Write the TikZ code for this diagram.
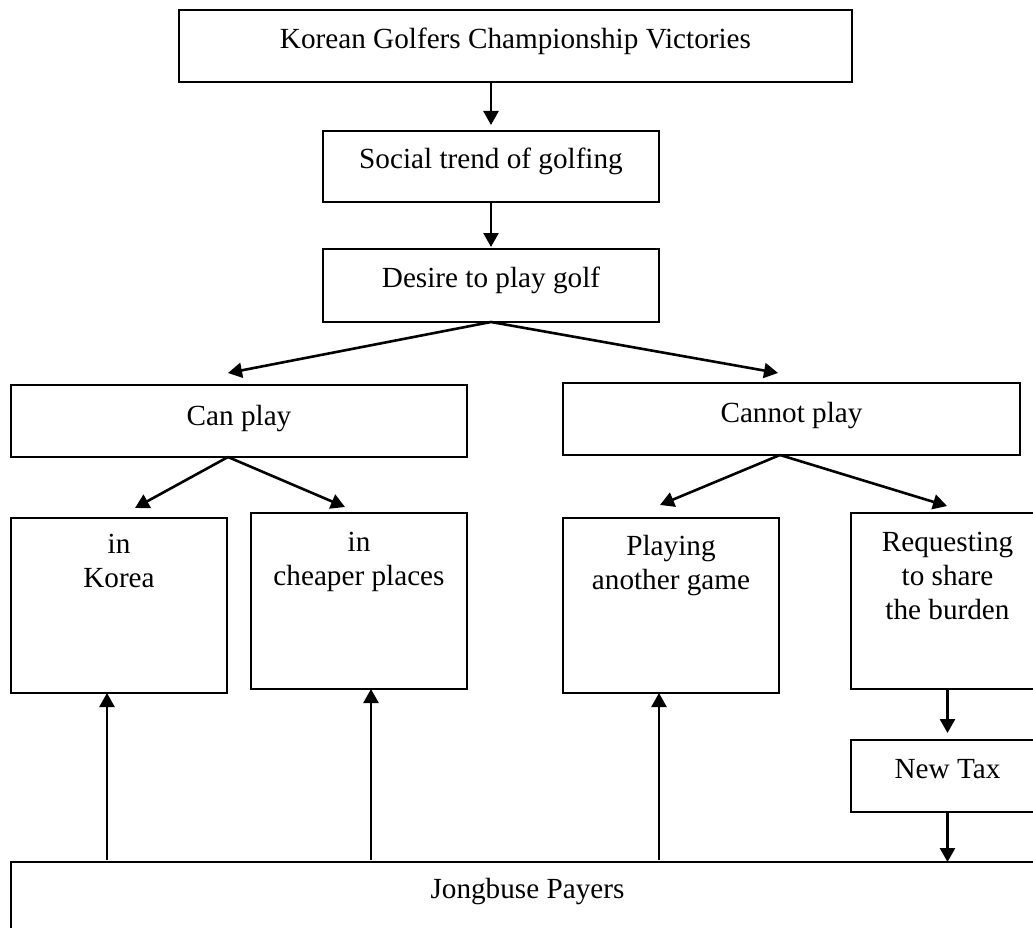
\documentclass[tikz,border=0pt]{standalone}
\usepackage{fontspec}
\setmainfont{Liberation Serif}
\usetikzlibrary{arrows.meta,calc}
\begin{document}
\begin{tikzpicture}[x=1pt,y=-1pt,
  box/.style={draw=black, line width=1.8pt, inner sep=0pt, outer sep=0pt},
  txt/.style={inner sep=0pt, align=center, anchor=north,
              font=\fontsize{29.2pt}{34pt}\selectfont},
  arr/.style={line width=2.6pt, -{Triangle[length=14pt,width=15pt]}}]
\clip (0,0) rectangle (1033,928);
\fill[white] (0,0) rectangle (1033,928);

% boxes
\node[box, minimum width=673pt, minimum height=72pt]  (top)     at (515.5,46)  {};
\node[box, minimum width=336pt, minimum height=71pt]  (social)  at (491,166.5) {};
\node[box, minimum width=336pt, minimum height=73pt]  (desire)  at (491,285.5) {};
\node[box, minimum width=456pt, minimum height=72pt]  (canplay) at (239,421)   {};
\node[box, minimum width=457pt, minimum height=72pt]  (cannot)  at (791.5,419) {};
\node[box, minimum width=216pt, minimum height=175pt] (korea)   at (119,605.5) {};
\node[box, minimum width=216pt, minimum height=176pt] (cheaper) at (359,601)   {};
\node[box, minimum width=216pt, minimum height=175pt] (playing) at (671,605.5) {};
\node[box, minimum width=193pt, minimum height=176pt] (request) at (947.5,601) {};
\node[box, minimum width=193pt, minimum height=72pt]  (newtax)  at (947.5,776) {};
\node[box, minimum width=1033pt, minimum height=98pt] (payers)  at (527.5,911) {};

% labels, set near the top of each box
\node[txt] (ttop)     at ($(top.north)+(0,13)$)     {\rule{0pt}{25pt}Korean Golfers Championship Victories};
\node[txt] (tsocial)  at ($(social.north)+(0,12)$)  {\rule{0pt}{25pt}Social trend of golfing};
\node[txt] (tdesire)  at ($(desire.north)+(0,13)$)  {\rule{0pt}{25pt}Desire to play golf};
\node[txt] (tcanplay) at ($(canplay.north)+(0,15)$) {\rule{0pt}{25pt}Can play};
\node[txt] (tcannot)  at ($(cannot.north)+(0,14)$)  {\rule{0pt}{25pt}Cannot play};
\node[txt] (tkorea)   at ($(korea.north)+(0,10)$)   {\rule{0pt}{25pt}in\\Korea};
\node[txt] (tcheaper) at ($(cheaper.north)+(0,13)$) {\rule{0pt}{25pt}in\\cheaper places};
\node[txt] (tplaying) at ($(playing.north)+(0,12)$) {\rule{0pt}{25pt}Playing\\another game};
\node[txt] (trequest) at ($(request.north)+(0,13)$) {\rule{0pt}{25pt}Requesting\\to share\\the burden};
\node[txt] (tnewtax)  at ($(newtax.north)+(0,13)$)  {\rule{0pt}{25pt}New Tax};
\node[txt] (tpayers)  at ($(payers.north)+(0,11)$)  {\rule{0pt}{25pt}Jongbuse Payers};

% connectors
\draw[arr] (social.north |- top.south) -- ($(social.north)+(0,-6)$);
\draw[arr] (social.south) -- ($(desire.north)+(0,-2)$);
\draw[arr] (desire.south) -- ($(canplay.north)+(-11,-12)$);
\draw[arr] (desire.south) -- ($(cannot.north)+(-13.5,-10)$);
\draw[arr] ($(canplay.south)+(-11,0)$) -- ($(korea.north)+(16,-10)$);
\draw[arr] ($(canplay.south)+(-11,0)$) -- ($(cheaper.north)+(-14,-6)$);
\draw[arr] ($(cannot.south)+(-11.5,0)$) -- ($(playing.north)+(-11,-13)$);
\draw[arr] ($(cannot.south)+(-11.5,0)$) -- ($(request.north)+(-0.5,-7)$);
\draw[arr] ($(payers.north -| korea.south)+(-12,-2)$)   -- ($(korea.south)+(-12,0)$);
\draw[arr] ($(payers.north -| cheaper.south)+(12,-2)$)  -- ($(cheaper.south)+(12,0)$);
\draw[arr] ($(payers.north -| playing.south)+(-12,-2)$) -- ($(playing.south)+(-12,0)$);
\draw[arr] (request.south) -- ($(newtax.north)+(0,-7)$);
\draw[arr] (newtax.south) -- (newtax.south |- payers.north);
\end{tikzpicture}
\end{document}
